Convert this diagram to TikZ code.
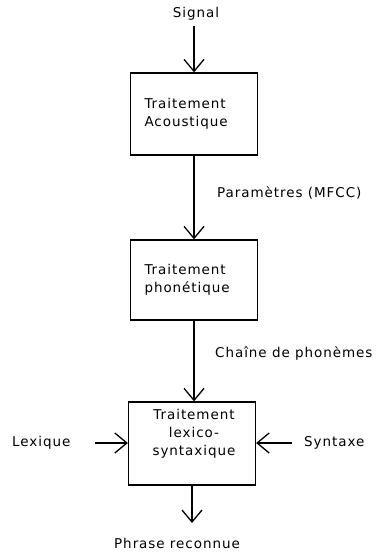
\documentclass[tikz,border=0pt]{standalone}
\usepackage{fontspec}
\setmainfont[LetterSpace=7]{DejaVu Sans}
\usetikzlibrary{arrows.meta}
\begin{document}
\begin{tikzpicture}[x=1pt,y=-1pt,
  every node/.style={font=\fontsize{13.5}{18}\selectfont, inner sep=0pt},
  boxnode/.style={draw, line width=1.3pt, minimum width=127pt, minimum height=82pt},
  flow/.style={line width=1.3pt, -{Straight Barb[length=12pt,width=20pt,line width=1.3pt]}},
  lbl/.style={anchor=west}]
\useasboundingbox (0,0) rectangle (379,553);
\node (signal) at (196,14) {Signal};
\node[boxnode, text width=99pt, inner xsep=14pt, align=left] (b1) at (194,114) {Traitement\\Acoustique};
\node[boxnode, text width=99pt, inner xsep=14pt, align=left, minimum height=80pt] (b2) at (194,280) {Traitement\\phonétique};
\node[boxnode, minimum height=83pt] (b3) at (192,443.5) {};
\node[align=center] (b3t) at (194,434) {Traitement\\lexico-\\syntaxique};
\node[lbl] (param) at (217,193) {Paramètres (MFCC)};
\node[lbl] (chaine) at (215,354) {Chaîne de phonèmes};
\node[lbl] (lex) at (12,443) {Lexique};
\node[lbl] (syn) at (304,443) {Syntaxe};
\node (phrase) at (177,543) {Phrase reconnue};
\coordinate (sigstart) at (194,26);
\coordinate (lexstart) at (95,443);
\coordinate (synstart) at (292,443);
\coordinate (outend) at (192,523);
\draw[flow] (sigstart) -- (b1.north);
\draw[flow] (b1.south) -- (b2.north);
\draw[flow] (b2.south) -- (b2.south |- b3.north);
\draw[flow] (lexstart) -- (b3.west |- lexstart);
\draw[flow] (synstart) -- (b3.east |- synstart);
\draw[flow] (b3.south) -- (outend);
\end{tikzpicture}
\end{document}
